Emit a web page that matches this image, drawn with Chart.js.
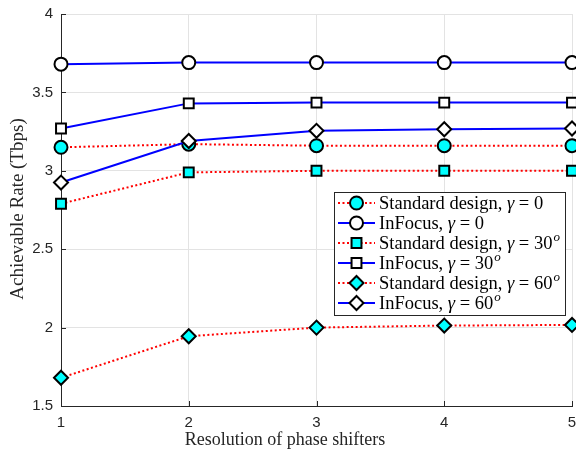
<!DOCTYPE html>
<html>
<head>
<meta charset="utf-8">
<script src="https://cdn.jsdelivr.net/npm/chart.js@4"></script>
<style>
  html, body { margin: 0; padding: 0; background: #fff; }
  #wrap { width: 576px; height: 453px; }
</style>
</head>
<body>
<div id="wrap"><canvas id="grafico"></canvas></div>
<script>
// resolucion de los desfasadores (eje x)
const resolucion = [1, 2, 3, 4, 5];
const yTicks = [1.5, 2, 2.5, 3, 3.5, 4];

// tasa alcanzable (Tbps)
const estandar0 = [3.15, 3.17, 3.16, 3.16, 3.16];
const infocus0 = [3.68, 3.69, 3.69, 3.69, 3.69];
const estandar30 = [2.79, 2.99, 3.00, 3.00, 3.00];
const infocus30 = [3.27, 3.43, 3.435, 3.435, 3.435];
const estandar60 = [1.68, 1.945, 2.00, 2.013, 2.017];
const infocus60 = [2.925, 3.19, 3.255, 3.265, 3.27];

const tituloX = 'Resolution of phase shifters';
const tituloY = 'Achievable Rate (Tbps)';

const etiquetas = [
  ['Standard design, ', '0', ''],
  ['InFocus, ', '0', ''],
  ['Standard design, ', '30', 'o'],
  ['InFocus, ', '30', 'o'],
  ['Standard design, ', '60', 'o'],
  ['InFocus, ', '60', 'o']
];

const serif = '"Liberation Serif", "DejaVu Serif", serif';
const sans = '"Liberation Sans", Arial, sans-serif';

function serie(valores, infocus, estilo) {
  return {
    data: resolucion.map((x, i) => ({x: x, y: valores[i]})),
    borderColor: infocus ? '#0000ff' : '#ff0000',
    borderWidth: 2,
    borderDash: infocus ? [] : [2, 2.5],
    pointStyle: estilo,
    pointRadius: estilo === 'circle' ? 6.5 : 7,
    pointBackgroundColor: infocus ? '#ffffff' : '#00ffff',
    pointBorderColor: '#000000',
    pointBorderWidth: 2,
    pointHoverRadius: 7,
    tension: 0,
    fill: false,
    clip: false
  };
}

const datasets = [
  serie(estandar0, false, 'circle'),
  serie(infocus0, true, 'circle'),
  serie(estandar30, false, 'rect'),
  serie(infocus30, true, 'rect'),
  serie(estandar60, false, 'rectRot'),
  serie(infocus60, true, 'rectRot')
];
// la ultima serie se dibuja encima
datasets.forEach((d, i) => d.order = datasets.length - i);

// marcas de graduacion hacia adentro y titulos de los ejes
const marcas = {
  id: 'marcas',
  afterDraw(chart) {
    const ctx = chart.ctx, a = chart.chartArea;
    const x = chart.scales.x, y = chart.scales.y;
    ctx.save();
    ctx.strokeStyle = '#262626';
    ctx.lineWidth = 1;
    ctx.beginPath();
    yTicks.forEach(v => {
      const py = Math.round(y.getPixelForValue(v)) + 0.5;
      ctx.moveTo(a.left, py); ctx.lineTo(a.left + 5, py);
    });
    resolucion.forEach(v => {
      const px = Math.round(x.getPixelForValue(v)) + 0.5;
      ctx.moveTo(px, a.bottom); ctx.lineTo(px, a.bottom - 5);
    });
    ctx.stroke();

    ctx.fillStyle = '#262626';
    ctx.textAlign = 'center';
    ctx.textBaseline = 'middle';
    ctx.font = '18px ' + serif;
    ctx.fillText(tituloX, 285, 440);
    ctx.translate(18, 209);
    ctx.rotate(-Math.PI / 2);
    ctx.font = '19px ' + serif;
    ctx.fillText(tituloY, 0, 0);
    ctx.restore();
  }
};

// leyenda dentro del area del grafico
const leyenda = {
  id: 'leyenda',
  afterDraw(chart) {
    const ctx = chart.ctx;
    const bx = 334, by = 192, bw = 231, bh = 123;
    ctx.save();
    ctx.fillStyle = '#ffffff';
    ctx.fillRect(bx, by, bw, bh);
    ctx.strokeStyle = '#262626';
    ctx.lineWidth = 1;
    ctx.strokeRect(bx + 0.5, by + 0.5, bw, bh);
    chart.data.datasets.forEach((d, i) => {
      const yy = 203 + i * 20;
      ctx.save();
      ctx.strokeStyle = d.borderColor;
      ctx.lineWidth = 2;
      ctx.setLineDash(d.borderDash);
      ctx.beginPath();
      ctx.moveTo(338, yy); ctx.lineTo(375, yy);
      ctx.stroke();
      ctx.restore();
      ctx.fillStyle = d.pointBackgroundColor;
      ctx.strokeStyle = '#000000';
      ctx.lineWidth = 2;
      Chart.helpers.drawPoint(ctx, {pointStyle: d.pointStyle, radius: d.pointRadius, borderWidth: 2, rotation: 0}, 356.5, yy);
      // texto
      const et = etiquetas[i];
      let tx = 379;
      ctx.fillStyle = '#000000';
      ctx.textBaseline = 'middle';
      ctx.font = '18.5px ' + serif;
      ctx.fillText(et[0], tx, yy + 1);
      tx += ctx.measureText(et[0]).width;
      ctx.font = 'italic 18.5px ' + serif;
      ctx.fillText('\u03b3', tx, yy + 1);
      tx += ctx.measureText('\u03b3').width;
      ctx.font = '18.5px ' + serif;
      const resto = ' = ' + et[1];
      ctx.fillText(resto, tx, yy + 1);
      tx += ctx.measureText(resto).width;
      if (et[2]) {
        ctx.font = 'italic 13px ' + serif;
        ctx.fillText(et[2], tx + 1, yy - 5);
      }
    });
    ctx.restore();
  }
};

new Chart(document.getElementById('grafico').getContext('2d'), {
  type: 'line',
  data: { datasets: datasets },
  options: {
    responsive: true,
    maintainAspectRatio: false,
    animation: false,
    events: [],
    layout: { autoPadding: false, padding: { top: 14, right: 4, left: 0, bottom: 0 } },
    plugins: { legend: { display: false }, tooltip: { enabled: false } },
    scales: {
      x: {
        type: 'linear',
        min: 1,
        max: 5,
        afterFit: s => { s.height = 47; s.paddingRight = 0; s.paddingLeft = 0; },
        afterBuildTicks: s => { s.ticks = resolucion.map(v => ({value: v})); },
        ticks: { color: '#262626', font: { family: sans, size: 15 }, padding: 8 },
        grid: { color: '#e3e3e3', tickLength: 0 },
        border: { color: '#262626', width: 1 }
      },
      y: {
        min: 1.5,
        max: 4,
        afterFit: s => { s.width = 61; s.paddingTop = 0; s.paddingBottom = 0; },
        afterBuildTicks: s => { s.ticks = yTicks.map(v => ({value: v})); },
        ticks: { color: '#262626', font: { family: sans, size: 15 }, padding: 8, callback: v => String(v) },
        grid: { color: '#e3e3e3', tickLength: 0 },
        border: { color: '#262626', width: 1 }
      }
    }
  },
  plugins: [marcas, leyenda]
});
</script>
</body>
</html>
